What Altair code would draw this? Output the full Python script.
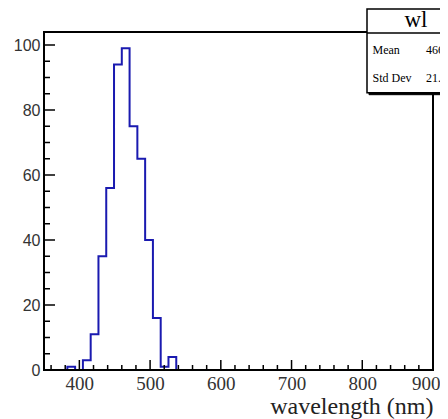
import altair as alt
import pandas as pd

# ---- data ----
bin_edges_lo = [350 + 11 * k for k in range(50)]
counts = [0, 0, 0, 1, 0, 3, 11, 35, 56, 94, 99, 75, 65, 40, 16, 1, 4] + [0] * 33
x_major = [400, 500, 600, 700, 800, 900]
x_minor = [v for v in range(360, 901, 20) if v % 100 != 0]
y_major = [0, 20, 40, 60, 80, 100]
y_minor = [v for v in range(0, 101, 5) if v % 20 != 0]
stats_title = "wl"
stats_labels = ["Mean", "Std Dev"]
stats_values = ["466.4", "21.95"]

W, H = 389, 338
XDOM = [350, 900]
YDOM = [0, 104]
BLUE = "#1a1ab0"

hist_df = pd.DataFrame({
    "edge": bin_edges_lo + [900],
    "count": counts + [0],
})

xs = alt.Scale(domain=XDOM, nice=False, zero=False)
ys = alt.Scale(domain=YDOM, nice=False)

xaxis = alt.Axis(
    values=x_major, format="d", ticks=False, tickSize=0, domain=False, grid=False,
    labelFont="Liberation Serif", labelFontSize=19, labelColor="#333333",
    labelPadding=4, labelFlush=10, labelFlushOffset=7,
    title="wavelength (nm)", titleFont="Liberation Serif", titleFontSize=24,
    titleFontWeight="normal", titleColor="#222222",
    titleAlign="right", titleAnchor="end", titleX=W, titleY=43,
    titleBaseline="alphabetic")
yaxis = alt.Axis(
    values=y_major, format="d", ticks=False, tickSize=0, domain=False, grid=False,
    labelFont="Liberation Sans", labelFontSize=16, labelColor="#333333",
    labelPadding=4, labelFlush=False, title=None)

hist = alt.Chart(hist_df).mark_line(
    interpolate="step-after", color=BLUE, strokeWidth=2
).encode(
    x=alt.X("edge:Q", scale=xs, axis=xaxis),
    y=alt.Y("count:Q", scale=ys, axis=yaxis),
)

def xticks(vals, length):
    return alt.Chart(pd.DataFrame({"edge": vals})).mark_rule(color="black", strokeWidth=1.5).encode(
        x=alt.X("edge:Q", scale=xs, axis=xaxis),
        y=alt.value(H), y2=alt.value(H - length),
    )

def yticks(vals, length):
    return alt.Chart(pd.DataFrame({"count": vals})).mark_rule(color="black", strokeWidth=1.5).encode(
        y=alt.Y("count:Q", scale=ys, axis=yaxis),
        x=alt.value(0), x2=alt.value(length),
    )

one = pd.DataFrame({"a": [0]})

frame = alt.Chart(one).mark_rect(fill=None, stroke="black", strokeWidth=2).encode(
    x=alt.value(0), x2=alt.value(W), y=alt.value(0), y2=alt.value(H)
)

BX0, BX1, BY0, BY1 = 323, 422, -23, 60.7
shadow = alt.Chart(one).mark_rect(fill="black", stroke="black", strokeWidth=1).encode(
    x=alt.value(BX0 + 2), x2=alt.value(BX1 + 2), y=alt.value(BY0 + 2), y2=alt.value(BY1 + 2)
)
box = alt.Chart(one).mark_rect(fill="white", stroke="black", strokeWidth=1.5).encode(
    x=alt.value(BX0), x2=alt.value(BX1), y=alt.value(BY0), y2=alt.value(BY1)
)
divider = alt.Chart(one).mark_rule(color="black", strokeWidth=1.5).encode(
    x=alt.value(BX0), x2=alt.value(BX1), y=alt.value(1)
)
title_txt = alt.Chart(one).mark_text(
    text=stats_title,
    font="Liberation Serif", fontSize=23, color="black", align="center", baseline="alphabetic"
).encode(x=alt.value(372), y=alt.value(-5))

def stat_text(s, xpos, ypos):
    return alt.Chart(one).mark_text(
        text=s, font="Liberation Serif", fontSize=12, color="black",
        align="left", baseline="alphabetic"
    ).encode(x=alt.value(xpos), y=alt.value(ypos))

stat_layers = []
for lab, val, py in zip(stats_labels, stats_values, [22, 50]):
    stat_layers.append(stat_text(lab, 328.5, py))
    stat_layers.append(stat_text(val, 382, py))

chart = alt.layer(
    hist,
    xticks(x_major, 10), xticks(x_minor, 5),
    yticks(y_major, 11), yticks(y_minor, 6),
    frame, shadow, box, divider, title_txt, *stat_layers,
).properties(
    width=W, height=H,
    autosize=alt.AutoSizeParams(type="none"),
    padding={"left": 36, "top": 24, "right": 7, "bottom": 49},
    background="white",
).configure_view(stroke=None)

chart.save("out.html", embed_options={"renderer": "svg", "actions": False})
